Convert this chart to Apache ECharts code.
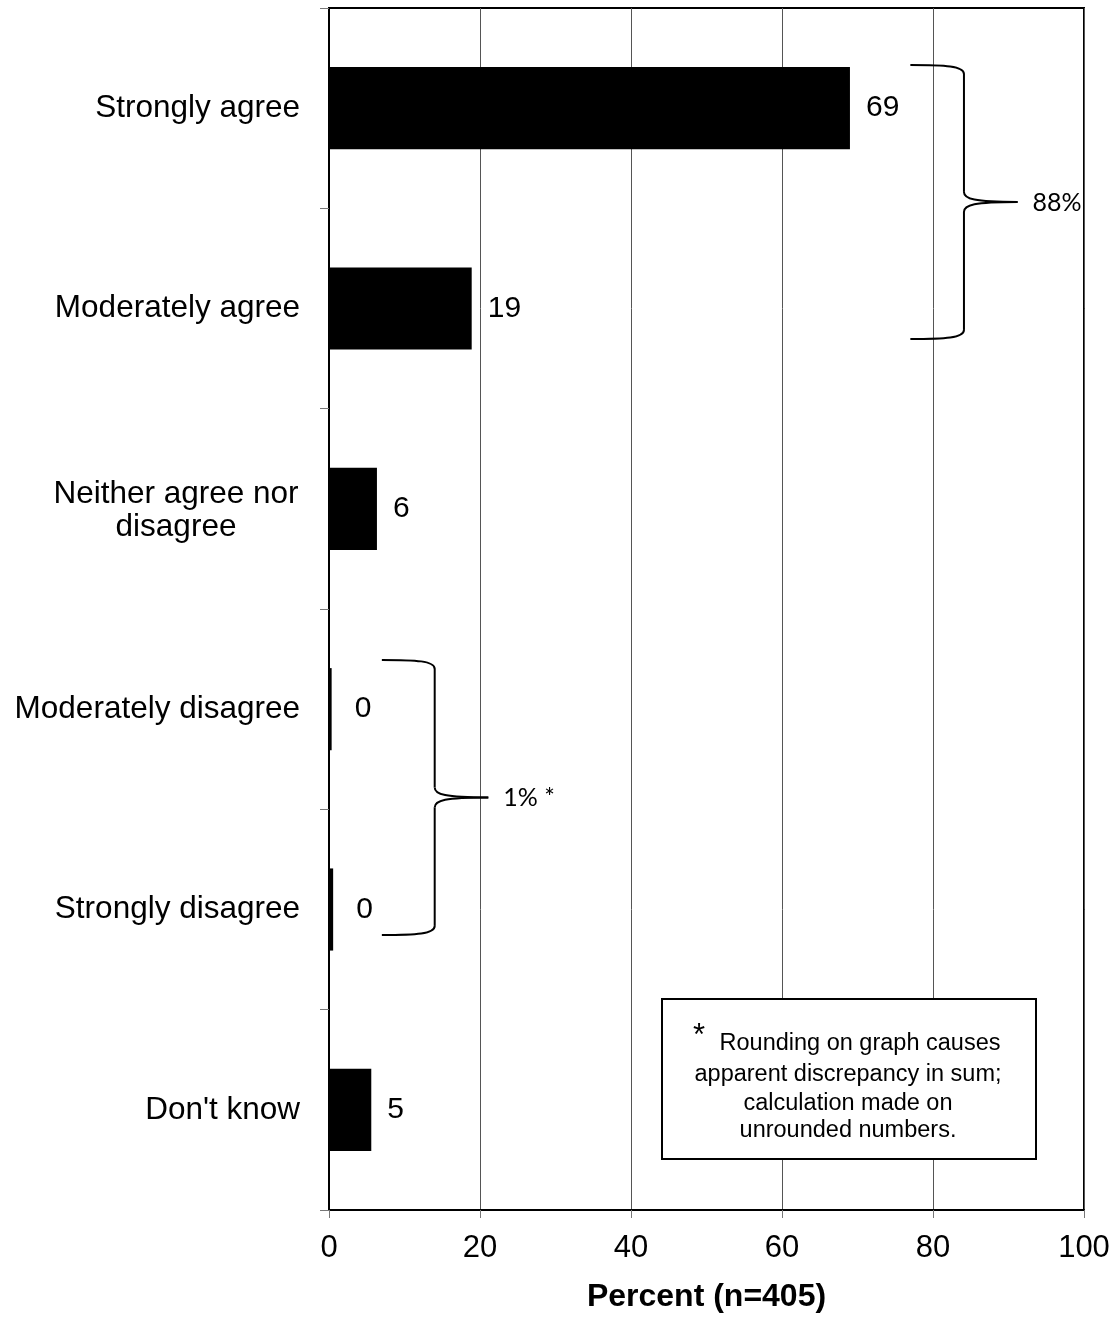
<!DOCTYPE html>
<html>
<head>
<meta charset="utf-8">
<script src="https://cdn.jsdelivr.net/npm/echarts@6/dist/echarts.min.js"></script>
<style>
html,body{margin:0;padding:0;background:#fff;}
#c{width:1115px;height:1318px;}
</style>
</head>
<body>
<div id="c"></div>
<script>
const categories = ['Strongly agree', 'Moderately agree', 'Neither agree nor disagree', 'Moderately disagree', 'Strongly disagree', "Don't know"];
const percents = [69.0, 18.9, 6.35, 0.35, 0.55, 5.6];
const valueLabels = ['69', '19', '6', '0', '0', '5'];
const xTicks = [0, 20, 40, 60, 80, 100];
const axisTitle = 'Percent (n=405)';
const groupNotes = ['88%', '1% *'];
const footnoteLines = ['Rounding on graph causes', 'apparent discrepancy in sum;', 'calculation made on', 'unrounded numbers.'];

const FONT = '"Liberation Sans", Arial, sans-serif';
const chart = echarts.init(document.getElementById('c'), null, {renderer: 'canvas'});

const seriesData = percents.map((v, i) => ({
  value: v,
  label: {distance: v < 1 ? 23 : 16}
}));

chart.setOption({
  animation: false,
  backgroundColor: '#fff',
  grid: {left: 329, right: 31, top: 8, bottom: 104, show: true, borderColor: '#000', borderWidth: 2, containLabel: false},
  xAxis: {
    type: 'value', min: xTicks[0], max: xTicks[xTicks.length - 1], interval: 20,
    name: axisTitle, nameLocation: 'middle', nameGap: 71,
    nameTextStyle: {fontFamily: FONT, fontSize: 32, fontWeight: 'bold', color: '#000'},
    axisLine: {show: true, lineStyle: {color: '#000', width: 2}},
    axisTick: {show: true, length: 8, lineStyle: {color: '#777', width: 1}},
    axisLabel: {fontFamily: FONT, fontSize: 31, color: '#000', margin: 23},
    splitLine: {show: true, lineStyle: {color: '#555', width: 1}}
  },
  yAxis: {
    type: 'category', data: categories, inverse: true,
    axisLine: {show: true, lineStyle: {color: '#000', width: 2}},
    axisTick: {show: true, length: 9, lineStyle: {color: '#777', width: 1}},
    axisLabel: {
      fontFamily: FONT, fontSize: 31.5, color: '#000', margin: 29, lineHeight: 32,
      formatter: function (v) {
        if (v.indexOf('Neither') === 0) return '{c|Neither agree nor}\n{c|disagree}';
        return v;
      },
      rich: {c: {fontFamily: FONT, fontSize: 31.5, color: '#000', width: 248, align: 'center', lineHeight: 33, padding: [3, 0, 0, 0]}}
    },
    splitLine: {show: false}
  },
  series: [{
    type: 'bar', data: seriesData, barWidth: '41%',
    itemStyle: {color: '#000'},
    label: {
      show: true, position: 'right', fontFamily: FONT, fontSize: 30, color: '#000',
      formatter: p => valueLabels[p.dataIndex]
    }
  }]
});

function px(v) { return chart.convertToPixel({xAxisIndex: 0}, v); }
function py(i) { return chart.convertToPixel({yAxisIndex: 0}, i); }

function braceParts(xL, xM, xT, yTop, yBot) {
  const yMid = (yTop + yBot) / 2;
  const k = xL + (xM - xL) * 0.65;
  const st = {fill: null, stroke: '#000', lineWidth: 2};
  const mk = (type, shape) => ({type: type, z: 10, shape: shape, style: st});
  return [
    mk('bezierCurve', {x1: xL, y1: yTop, cpx1: k, cpy1: yTop, cpx2: xM, cpy2: yTop + 1, x2: xM, y2: yTop + 9}),
    mk('line', {x1: xM, y1: yTop + 9, x2: xM, y2: yMid - 10}),
    mk('bezierCurve', {x1: xM, y1: yMid - 10, cpx1: xM, cpy1: yMid - 3, cpx2: xM + 10, cpy2: yMid, x2: xT, y2: yMid}),
    mk('bezierCurve', {x1: xT, y1: yMid, cpx1: xM + 10, cpy1: yMid, cpx2: xM, cpy2: yMid + 3, x2: xM, y2: yMid + 10}),
    mk('line', {x1: xM, y1: yMid + 10, x2: xM, y2: yBot - 9}),
    mk('bezierCurve', {x1: xM, y1: yBot - 9, cpx1: xM, cpy1: yBot - 1, cpx2: k, cpy2: yBot, x2: xL, y2: yBot})
  ];
}

const band = py(1) - py(0);
const b1 = {xL: px(77), xM: px(84.1), xT: px(91.2), yTop: py(0) - 0.216 * band, yBot: py(1) + 0.152 * band};
const b2 = {xL: px(7.0), xM: px(14.0), xT: px(21.1), yTop: py(3) - 0.246 * band, yBot: py(4) + 0.127 * band};

let graphics = [];
[b1, b2].forEach((b, i) => {
  graphics = graphics.concat(braceParts(b.xL, b.xM, b.xT, b.yTop, b.yBot));
  graphics.push({
    type: 'text', z: 10,
    style: {
      text: groupNotes[i], x: b.xT + 15, y: (b.yTop + b.yBot) / 2 + 1,
      fontFamily: 'Lato, "Open Sans", sans-serif', fontSize: 25, fill: '#000',
      textAlign: 'left', textVerticalAlign: 'middle'
    }
  });
});

// footnote box
const bx = 662, by = 999, bw = 374, bh = 160;
graphics.push({type: 'rect', z: 10, shape: {x: bx, y: by, width: bw, height: bh}, style: {fill: '#fff', stroke: '#000', lineWidth: 2}});
graphics.push({type: 'text', z: 11, style: {text: '*', x: 699, y: 1036, fontFamily: FONT, fontSize: 31, fill: '#000', textAlign: 'center', textVerticalAlign: 'middle'}});
const lineX = [860, 848, 848, 848];
const lineY = [1044, 1075, 1104, 1131];
footnoteLines.forEach((t, i) => {
  graphics.push({type: 'text', z: 11, style: {text: t, x: lineX[i], y: lineY[i], fontFamily: FONT, fontSize: 23.5, fill: '#000', textAlign: 'center', textVerticalAlign: 'middle'}});
});

chart.setOption({graphic: graphics});
</script>
</body>
</html>
